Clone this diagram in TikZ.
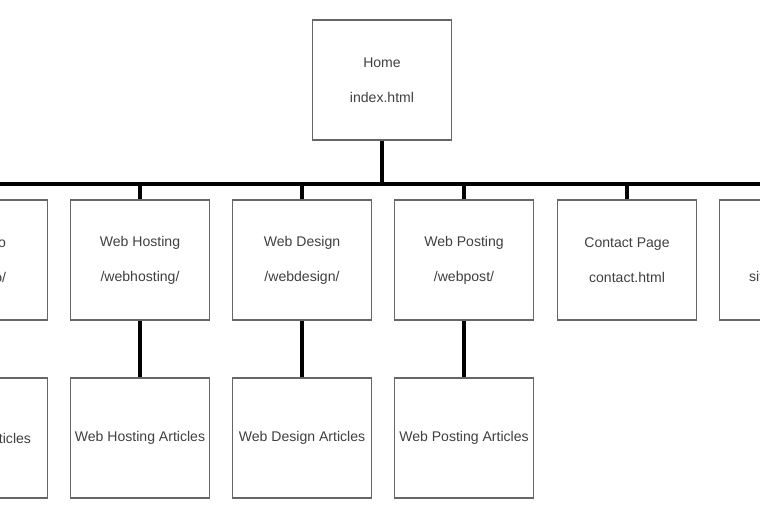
\documentclass[tikz,border=0pt]{standalone}
\usepackage{fontspec}
\setmainfont{Liberation Sans}
\usepackage{tikz}
\usetikzlibrary{positioning, calc}

\tikzset{
  page/.style={draw=black!60, line width=1.1pt, fill=white, text=black!75,
    minimum width=2.78cm, minimum height=2.4cm, inner xsep=0pt, align=center,
    font=\fontsize{8}{20}\selectfont},
  link/.style={line width=2.2pt, black}
}

\begin{document}
\begin{tikzpicture}[x=0.02cm, y=-0.02cm]
                \useasboundingbox (0,0) rectangle (760,530);
                \clip (0,0) rectangle (760,530);

                % pocetna stranica
                \node[page] (H) at (382,80) {Home\\index.html};

                % prvi red
                \node[page] (A) at (-22,260) {Web Info\\/webinfo/};
                \node[page] (B) at (140,260) {Web Hosting\\/webhosting/};
                \node[page] (C) at (302,260) {Web Design\\/webdesign/};
                \node[page] (D) at (464,260) {Web Posting\\/webpost/};
                \node[page] (E) at (627,260) {Contact Page\\contact.html};
                \node[page] (F) at (789,260) {Site Map\\sitemap.html};

                % drugi red
                \node[page] (A2) at (-22,438) {Web Info Articles};
                \node[page] (B2) at (140,438) {Web Hosting Articles};
                \node[page] (C2) at (302,438) {Web Design Articles};
                \node[page] (D2) at (464,438) {Web Posting Articles};

                % sabirnica
                \coordinate (L) at (-40,184);
                \coordinate (R) at (800,184);
                \draw[link] (L) -- (R);
                \draw[link] (H.south) -- (H.south |- L);

                \draw[link] (A.north |- L) -- (A.north);
                \draw[link] (B.north |- L) -- (B.north);
                \draw[link] (C.north |- L) -- (C.north);
                \draw[link] (D.north |- L) -- (D.north);
                \draw[link] (E.north |- L) -- (E.north);
                \draw[link] (F.north |- L) -- (F.north);

                \draw[link] (A.south) -- (A2.north);
                \draw[link] (B.south) -- (B2.north);
                \draw[link] (C.south) -- (C2.north);
                \draw[link] (D.south) -- (D2.north);
\end{tikzpicture}
\end{document}
